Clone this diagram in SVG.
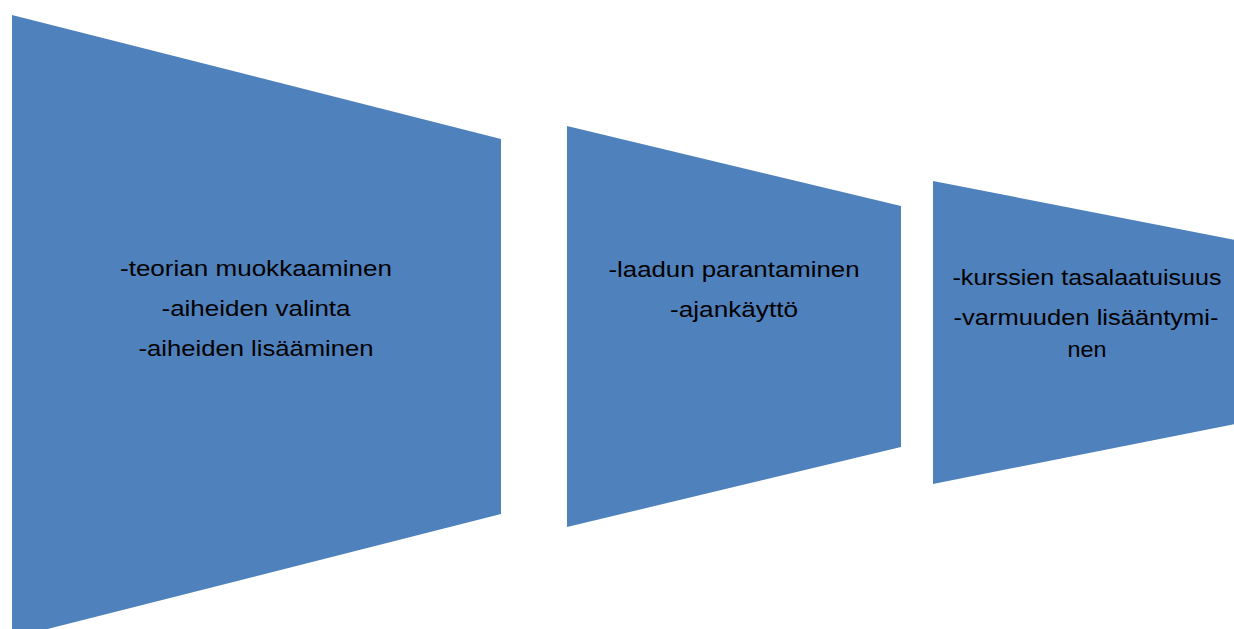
<svg xmlns="http://www.w3.org/2000/svg" width="1234" height="629" viewBox="0 0 1234 629">
<style>
.shape{fill:#4F81BD;}
.t{font-family:"Liberation Sans",Arial,sans-serif;font-size:22px;fill:#000;text-anchor:middle;}
</style>
<rect width="1234" height="629" fill="#fff"/>
<g id="node1">
<polygon class="shape" points="12,15 501,139 501,514 12,638"/>
<text class="t" x="256" y="276" textLength="272" lengthAdjust="spacingAndGlyphs">-teorian muokkaaminen</text>
<text class="t" x="256" y="316" textLength="189" lengthAdjust="spacingAndGlyphs">-aiheiden valinta</text>
<text class="t" x="256" y="356" textLength="235" lengthAdjust="spacingAndGlyphs">-aiheiden lisääminen</text>
</g>
<g id="node2">
<polygon class="shape" points="567,126 901,206 901,447 567,527"/>
<text class="t" x="734" y="277" textLength="251" lengthAdjust="spacingAndGlyphs">-laadun parantaminen</text>
<text class="t" x="734" y="317" textLength="128" lengthAdjust="spacingAndGlyphs">-ajankäyttö</text>
</g>
<g id="node3">
<polygon class="shape" points="933,181 1240,241 1240,423 933,484"/>
<text class="t" x="1087" y="285" textLength="269" lengthAdjust="spacingAndGlyphs">-kurssien tasalaatuisuus</text>
<text class="t" x="1086" y="325" textLength="265" lengthAdjust="spacingAndGlyphs">-varmuuden lisääntymi-</text>
<text class="t" x="1087" y="357" textLength="39" lengthAdjust="spacingAndGlyphs">nen</text>
</g>
<g id="connectors"></g>
</svg>
